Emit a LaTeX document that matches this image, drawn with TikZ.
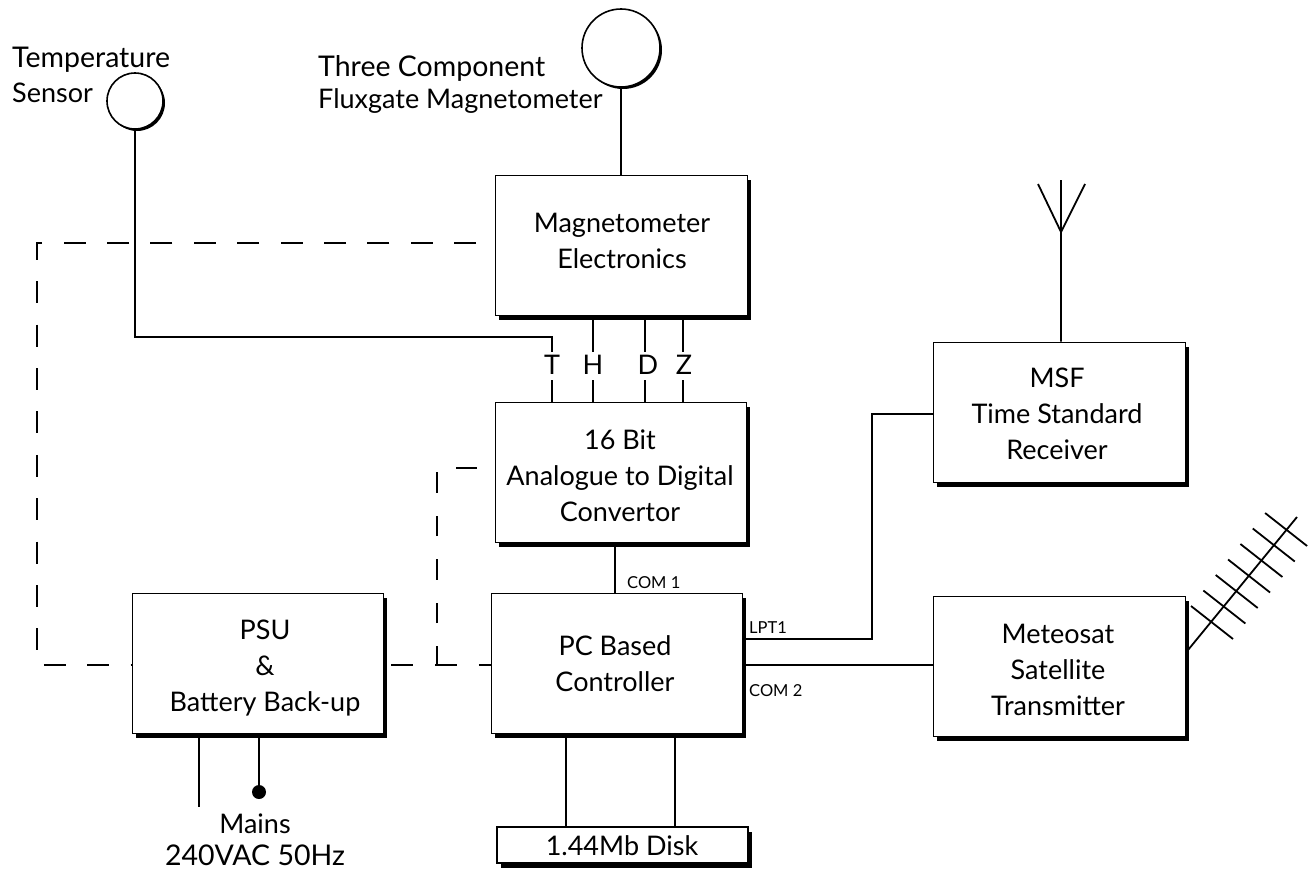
\documentclass[tikz,border=0pt]{standalone}
\usepackage{fontspec}
\setmainfont{Lato}
\usetikzlibrary{shadows,calc}
\tikzset{
  box/.style={draw=black,line width=0.8pt,fill=white,inner sep=0pt,drop shadow={shadow xshift=4pt,shadow yshift=-4.5pt,fill=black,opacity=1}},
  sensor/.style={circle,draw=black,line width=1.6pt,fill=white,inner sep=0pt,drop shadow={shadow xshift=2pt,shadow yshift=-2pt,fill=black,opacity=1}},
  txt/.style={inner sep=0pt,align=center,font=\fontsize{27}{36}\selectfont},
  ltxt/.style={inner sep=0pt,align=left,font=\fontsize{27}{36}\selectfont},
  wtxt/.style={inner sep=0pt,align=left,font=\fontsize{28.5}{36}\selectfont},
  small/.style={inner sep=0pt,font=\fontsize{16.5}{18}\selectfont},
  wire/.style={line width=1.6pt,line cap=butt},
  dash wire/.style={line width=1.8pt},
  aerial/.style={line width=1.8pt},
}
\begin{document}
\begin{tikzpicture}[x=1pt,y=-1pt]
\useasboundingbox (0,0) rectangle (1316,870);
% boxes
\node[box,minimum width=252pt,minimum height=140pt] (mag) at (621,245) {};
\node[box,minimum width=251pt,minimum height=140pt] (adc) at (620.5,472) {};
\node[box,minimum width=251pt,minimum height=140pt] (pc) at (616.5,663) {};
\node[box,minimum width=251pt,minimum height=140pt] (psu) at (257.5,663) {};
\node[box,minimum width=252pt,minimum height=140pt] (msf) at (1059,412) {};
\node[box,minimum width=252pt,minimum height=140pt] (sat) at (1059,666) {};
\node[box,line width=1.6pt,minimum width=251pt,minimum height=36pt] (disk) at (622.5,845) {};
\node[sensor,minimum size=56pt] (temp) at (135,101) {};
\node[sensor,minimum size=78pt] (flux) at (621,48) {};
% texts
\node[txt] (magt) at (622,241) {Magnetometer\\Electronics};
\node[txt] (adct) at (620,476) {16 Bit\\Analogue to Digital\\Convertor};
\node[txt] (pct) at (615,664) {PC Based\\Controller};
\node[txt] (psut) at (265,668.5) {PSU\\\&\\Battery Back-up};
\node[txt] (msft) at (1057,414) {MSF\\Time Standard\\Receiver};
\node[txt] (satt) at (1058,670) {Meteosat\\Satellite\\Transmitter};
\node[txt] (diskt) at (622,846) {1.44Mb Disk};
\node[wtxt,anchor=west] (tempt1) at (12,60) {Temperature};
\node[ltxt,anchor=west] (tempt2) at (12,93) {Sensor};
\node[wtxt,anchor=west] (fluxt1) at (318,68) {Three Component};
\node[ltxt,anchor=west] (fluxt2) at (318,101) {Fluxgate Magnetometer};
\node[txt] (mains1) at (255,824) {Mains};
\node[wtxt] (mains2) at (255,855) {240VAC 50Hz};
\node[txt] (T) at (552,365) {T};
\node[txt] (H) at (593,365) {H};
\node[txt] (D) at (648,365) {D};
\node[txt] (Z) at (684,365) {Z};
\node[small,anchor=west] (com1) at (627,583) {COM 1};
\node[small,anchor=west] (lpt1) at (749,628) {LPT1};
\node[small,anchor=west] (com2) at (749,691) {COM 2};
% anchors
\coordinate (xT) at (552,0);
\coordinate (xH) at (593,0);
\coordinate (xD) at (645,0);
\coordinate (xZ) at (683,0);
\coordinate (xM) at (621,0);
\coordinate (xC) at (615,0);
\coordinate (y1) at (0,352);
\coordinate (y2) at (0,380);
\coordinate (bendT) at (135,337);
\coordinate (bendL) at (872,639);
\coordinate (bendU) at (872,414);
\coordinate (xd1) at (566,0);
\coordinate (xd2) at (675,0);
\coordinate (yS) at (0,665);
\coordinate (yD) at (0,243);
\coordinate (xP1) at (199,0);
\coordinate (xP2) at (259,0);
\coordinate (xF) at (437,0);
\coordinate (yA) at (0,468);
\coordinate (cornerTL) at (37,243);
\coordinate (cornerBL) at (37,665);
\coordinate (endP1) at (199,807);
\node[circle,fill=black,inner sep=0pt,minimum size=14pt] (plug) at (259,792) {};
% wires
\draw[wire] (temp.south) -- (bendT) -- (xT |- bendT) -- (xT |- y1);
\draw[wire] (xT |- y2) -- (xT |- adc.north);
\draw[wire] (xH |- mag.south) -- (xH |- y1);
\draw[wire] (xH |- y2) -- (xH |- adc.north);
\draw[wire] (xD |- mag.south) -- (xD |- y1);
\draw[wire] (xD |- y2) -- (xD |- adc.north);
\draw[wire] (xZ |- mag.south) -- (xZ |- y1);
\draw[wire] (xZ |- y2) -- (xZ |- adc.north);
\draw[wire] (flux.south) -- (xM |- mag.north);
\draw[wire] (xC |- adc.south) -- (xC |- pc.north);
\draw[wire] (pc.east |- bendL) -- (bendL) -- (bendU) -- (msf.west |- bendU);
\draw[wire] (pc.east |- yS) -- (sat.west |- yS);
\draw[wire] (xd1 |- pc.south) -- (xd1 |- disk.north);
\draw[wire] (xd2 |- pc.south) -- (xd2 |- disk.north);
\draw[wire] (xP1 |- psu.south) -- (endP1);
\draw[wire] (xP2 |- psu.south) -- (plug);
% dashed power
\draw[dash wire,dash pattern=on 22pt off 21.4pt,dash phase=25pt] (mag.west |- yD) -- (cornerTL) -- (cornerBL) -- (psu.west |- yS);
\draw[dash wire,dash pattern=on 22pt off 21.7pt,dash phase=35.7pt] (psu.east |- yS) -- (pc.west |- yS);
\draw[dash wire,dash pattern=on 20.5pt off 23pt,dash phase=1.5pt] (xF |- yS) -- (xF |- yA) -- (adc.west |- yA);
% aerials
\coordinate (mast) at (1061,232);
\draw[aerial] (msf.north -| mast) -- (mast) -- (1038,184);
\draw[aerial] (mast) -- (1061,180);
\draw[aerial] (mast) -- (1085,184);
\coordinate (yagiA) at (1188,650);
\coordinate (yagiB) at (1297,517);
\draw[aerial] (yagiA) -- (yagiB);
\foreach \i in {0,...,6} {
  \draw[aerial] ($(1191,606)+(\i*12.35,-\i*15.5)$) -- ++(42,33);
}
\end{tikzpicture}
\end{document}
